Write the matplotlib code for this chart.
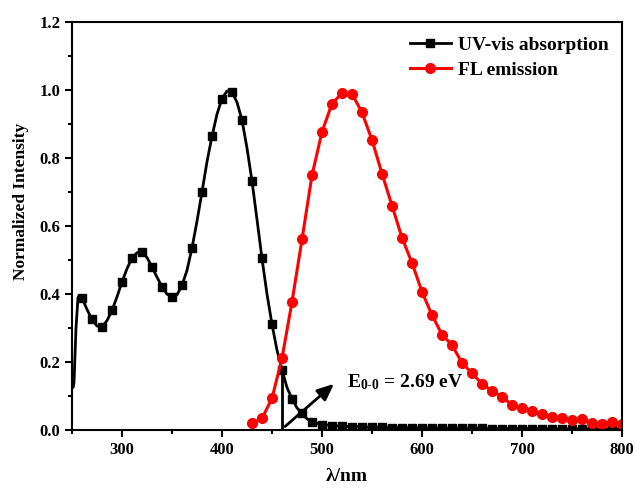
import matplotlib
matplotlib.use('Agg')
import matplotlib.pyplot as plt
import matplotlib.ticker as ticker

plt.rcParams['font.family'] = ['Liberation Serif', 'DejaVu Serif']
plt.rcParams['font.weight'] = 'bold'
plt.rcParams['mathtext.fontset'] = 'custom'
plt.rcParams['mathtext.rm'] = 'Liberation Serif:bold'
plt.rcParams['mathtext.it'] = 'Liberation Serif:bold'
plt.rcParams['mathtext.bf'] = 'Liberation Serif:bold'

# UV-vis absorption
abs_wl = [250, 251, 252, 254, 256, 257, 260, 265, 270, 275, 280, 285, 290, 295,
          300, 305, 310, 315, 320, 325, 330, 335, 340, 345, 350, 355, 360, 365,
          370, 375, 380, 385, 390, 395, 400, 405, 410, 415, 420, 425, 430, 435,
          440, 445, 450, 455, 460, 465, 470, 475, 480, 485, 490, 495, 500,
          510, 520, 530, 540, 550, 560, 570, 580, 590, 600, 610, 620, 630, 640,
          650, 660, 670, 680, 690, 700, 710, 720, 730, 740, 750, 760, 770, 780,
          790, 800]
abs_val = [0.14, 0.125, 0.14, 0.30, 0.39, 0.395, 0.389, 0.355, 0.326, 0.306, 0.304, 0.322, 0.352, 0.392,
           0.436, 0.475, 0.506, 0.522, 0.525, 0.508, 0.48, 0.45, 0.422, 0.40, 0.393, 0.398, 0.426, 0.47,
           0.536, 0.615, 0.701, 0.79, 0.865, 0.93, 0.976, 0.998, 0.995, 0.965, 0.913, 0.83, 0.733, 0.62,
           0.505, 0.40, 0.311, 0.235, 0.178, 0.125, 0.092, 0.065, 0.049, 0.033, 0.024, 0.02, 0.016,
           0.013, 0.011, 0.01, 0.009, 0.008, 0.008, 0.007, 0.007, 0.006, 0.006, 0.006, 0.005, 0.005, 0.005,
           0.005, 0.005, 0.004, 0.004, 0.004, 0.004, 0.004, 0.004, 0.003, 0.003, 0.003, 0.003, 0.003, 0.003,
           0.003, 0.003]

# FL emission
fl_wl = [430, 440, 450, 460, 470, 480, 490, 500, 510, 520, 530, 540, 550, 560,
         570, 580, 590, 600, 610, 620, 630, 640, 650, 660, 670, 680, 690, 700,
         710, 720, 730, 740, 750, 760, 770, 780, 790, 800]
fl_val = [0.02, 0.034, 0.093, 0.211, 0.377, 0.561, 0.75, 0.878, 0.961, 0.992, 0.99, 0.935, 0.854, 0.755,
          0.661, 0.566, 0.492, 0.407, 0.338, 0.281, 0.25, 0.198, 0.167, 0.136, 0.115, 0.098, 0.074, 0.066,
          0.056, 0.046, 0.039, 0.034, 0.028, 0.031, 0.02, 0.017, 0.024, 0.019]

e00_wl = 460
e00_top = 0.185

abs_marks = [i for i, w in enumerate(abs_wl) if w >= 260 and w % 10 == 0]

fig = plt.figure(figsize=(6.36, 4.88), dpi=100)
ax = fig.add_axes([0.1132, 0.1189, 0.8648, 0.835])

ax.plot(abs_wl, abs_val, color='black', lw=2, marker='s', markersize=6,
        markevery=abs_marks, label='UV-vis absorption')
ax.plot(fl_wl, fl_val, color='red', lw=2.2, marker='o', markersize=7,
        label='FL emission')

ax.plot([e00_wl, e00_wl], [0, e00_top], color='black', lw=2)
ax.annotate('', xy=(514, 0.141), xytext=(461, 0.005),
            arrowprops=dict(arrowstyle='-|>,head_length=0.5,head_width=0.22', lw=2,
                            color='black', mutation_scale=20))
ax.text(525, 0.14, r'E$_{0\text{-}0}$ = 2.69 eV', fontsize=14, fontweight='bold', va='center')

ax.set_xlim(250, 800)
ax.set_ylim(0, 1.2)
ax.xaxis.set_major_locator(ticker.MultipleLocator(100))
ax.xaxis.set_minor_locator(ticker.MultipleLocator(50))
ax.yaxis.set_major_locator(ticker.MultipleLocator(0.2))
ax.yaxis.set_minor_locator(ticker.MultipleLocator(0.1))
ax.yaxis.set_major_formatter(ticker.FormatStrFormatter('%.1f'))
ax.tick_params(which='major', direction='out', length=5, width=1.5, labelsize=12)
ax.tick_params(which='minor', direction='out', length=3, width=1.5)
for sp in ax.spines.values():
    sp.set_linewidth(1.5)

ax.set_xlabel('λ/nm', fontsize=14, fontweight='bold', labelpad=7)
ax.set_ylabel('Normalized Intensity', fontsize=12.5, fontweight='bold')
ax.yaxis.set_label_coords(-0.078, 0.56)

ax.legend(loc='upper right', frameon=False, handlelength=2.1,
          handletextpad=0.35, labelspacing=0.4, borderaxespad=0.3,
          prop={'weight': 'bold', 'size': 14})

plt.savefig('out.png', dpi=100)
